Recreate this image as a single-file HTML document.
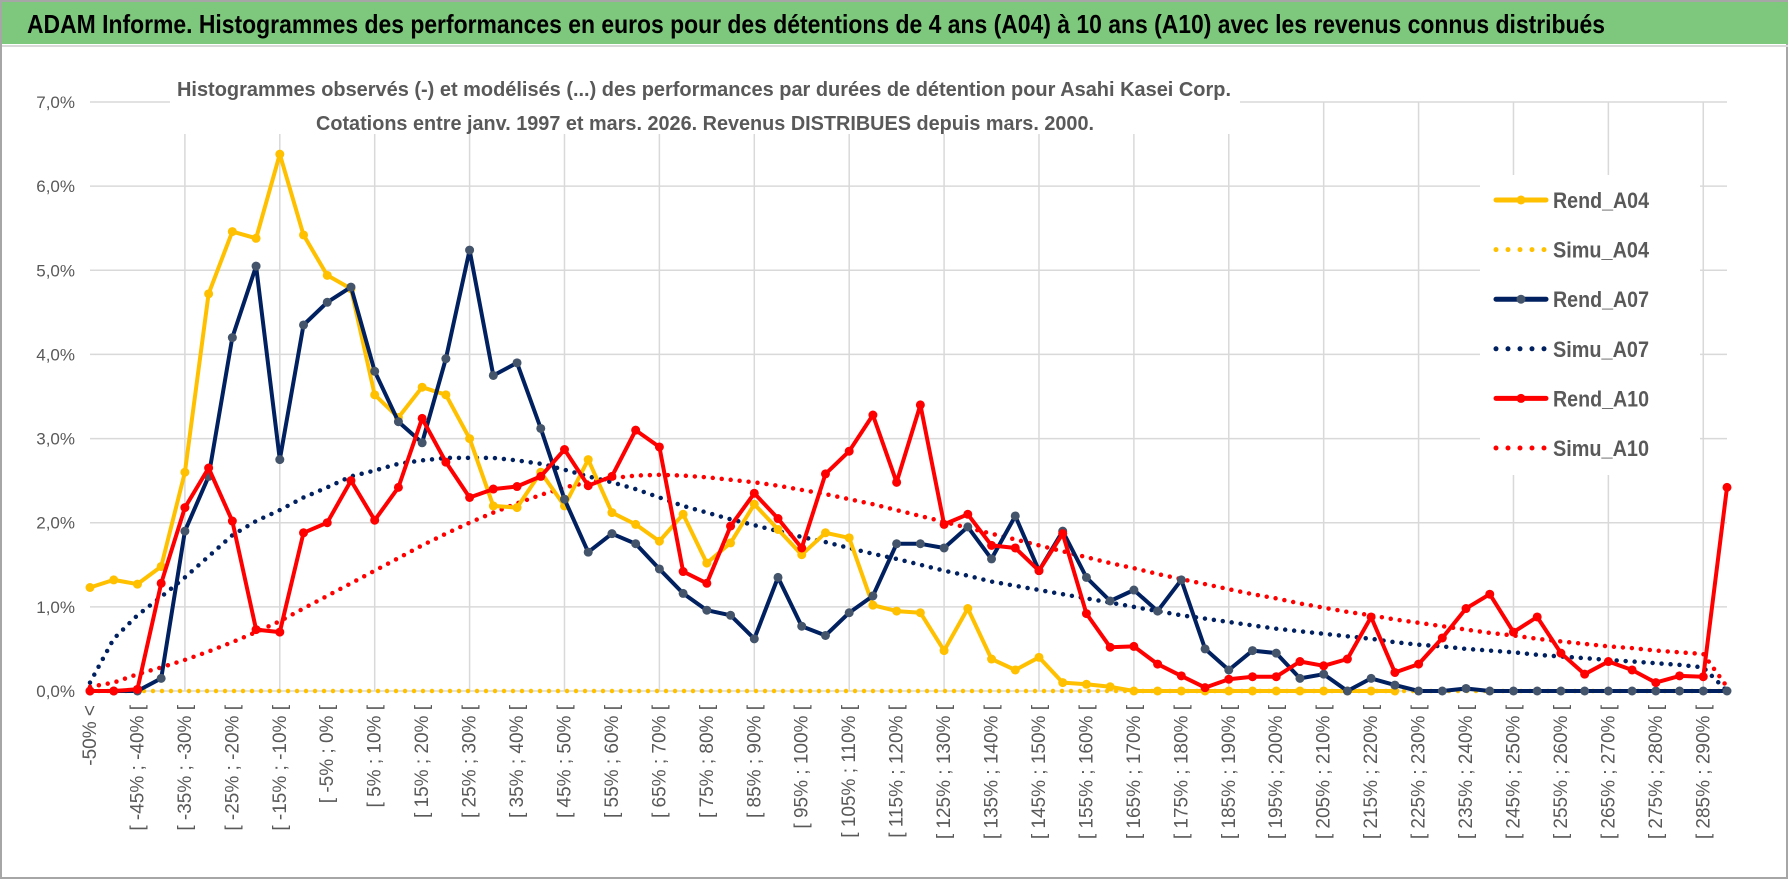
<!DOCTYPE html>
<html><head><meta charset="utf-8"><style>
html,body{margin:0;padding:0;background:#fff;}
svg{display:block;font-family:"Liberation Sans",sans-serif;}
</style></head><body>
<svg id="chart" width="1790" height="888" viewBox="0 0 1790 888">
<rect x="1" y="1" width="1786" height="877" fill="#fff" stroke="#a6a6a6" stroke-width="2"/>
<rect x="2" y="2" width="1786" height="42" fill="#7DC87D"/>
<line x1="2" y1="46" x2="1788" y2="46" stroke="#d9d9d9" stroke-width="2"/>
<text x="27" y="33" font-size="26" font-weight="bold" fill="#000" textLength="1578" lengthAdjust="spacingAndGlyphs">ADAM Informe. Histogrammes des performances en euros pour des détentions de 4 ans (A04) à 10 ans (A10) avec les revenus connus distribués</text>
<g id="grid"></g>
<g id="series"></g>
<rect x="170" y="70" width="1070" height="64" fill="#fff"/>
<text x="177" y="96" font-size="20" font-weight="bold" fill="#595959" textLength="1054" lengthAdjust="spacingAndGlyphs">Histogrammes observés (-) et modélisés (...) des performances par durées de détention pour Asahi Kasei Corp.</text>
<text x="316" y="130" font-size="20" font-weight="bold" fill="#595959" textLength="778" lengthAdjust="spacingAndGlyphs">Cotations entre janv. 1997 et mars. 2026. Revenus DISTRIBUES depuis mars. 2000.</text>
<g id="yaxis"></g>
<g id="xaxis"></g>
<g id="legend"></g>
</svg>
<script>
const rendA04=[1.23,1.32,1.27,1.48,2.6,4.72,5.46,5.38,6.38,5.42,4.94,4.78,3.52,3.25,3.61,3.52,3.0,2.2,2.18,2.6,2.2,2.75,2.12,1.98,1.78,2.1,1.52,1.76,2.22,1.92,1.62,1.88,1.82,1.02,0.95,0.93,0.48,0.98,0.38,0.25,0.4,0.1,0.08,0.05,0,0,0,0,0,0,0,0,0,0,0,0,null,null,null,null,null,null,null,null,null,null,null,null,null,null];
const simuA04=[0,0,0,0,0,0,0,0,0,0,0,0,0,0,0,0,0,0,0,0,0,0,0,0,0,0,0,0,0,0,0,0,0,0,0,0,0,0,0,0,0,0,0,0,0,0,0,0,0,0,0,0,0,0,0,0,0,0,0,0,0,0,0,0,0,0,0,0,0,0];
const rendA07=[0,0,0,0.15,1.9,2.55,4.2,5.05,2.75,4.35,4.62,4.8,3.8,3.2,2.95,3.95,5.24,3.75,3.9,3.12,2.28,1.65,1.87,1.75,1.45,1.16,0.96,0.9,0.62,1.35,0.77,0.66,0.93,1.13,1.75,1.75,1.7,1.95,1.57,2.08,1.43,1.9,1.35,1.07,1.2,0.95,1.32,0.5,0.25,0.48,0.45,0.15,0.2,0,0.15,0.07,0,0,0.03,0,0,0,0,0,0,0,0,0,0,0];
const simuA07=[0.1,0.62,0.9,1.12,1.35,1.6,1.85,2.02,2.15,2.3,2.42,2.55,2.62,2.7,2.74,2.77,2.77,2.77,2.74,2.7,2.63,2.55,2.48,2.4,2.3,2.2,2.12,2.04,1.97,1.9,1.83,1.77,1.7,1.63,1.57,1.5,1.43,1.37,1.3,1.25,1.2,1.15,1.1,1.05,1.0,0.95,0.9,0.86,0.82,0.78,0.74,0.71,0.68,0.65,0.62,0.58,0.55,0.53,0.5,0.48,0.46,0.43,0.41,0.39,0.37,0.35,0.33,0.31,0.28,0];
const rendA10=[0,0,0.02,1.28,2.18,2.65,2.02,0.73,0.7,1.88,2.0,2.5,2.03,2.42,3.24,2.72,2.3,2.4,2.43,2.55,2.87,2.44,2.55,3.1,2.9,1.42,1.28,1.96,2.35,2.05,1.7,2.58,2.85,3.28,2.48,3.4,1.98,2.1,1.73,1.7,1.43,1.87,0.92,0.52,0.53,0.32,0.18,0.04,0.14,0.17,0.17,0.35,0.3,0.38,0.88,0.22,0.32,0.63,0.98,1.15,0.7,0.88,0.45,0.2,0.35,0.25,0.1,0.18,0.17,2.42];
const simuA10=[0.05,0.1,0.2,0.28,0.37,0.47,0.58,0.7,0.83,0.98,1.13,1.28,1.43,1.58,1.73,1.87,2.0,2.12,2.23,2.33,2.42,2.48,2.53,2.56,2.57,2.56,2.54,2.51,2.48,2.44,2.39,2.34,2.28,2.22,2.15,2.08,2.01,1.94,1.87,1.8,1.73,1.66,1.59,1.52,1.46,1.39,1.33,1.27,1.21,1.15,1.1,1.04,0.99,0.94,0.9,0.85,0.81,0.77,0.73,0.69,0.66,0.62,0.59,0.56,0.53,0.51,0.48,0.46,0.44,0.05];
const yTicks=[0,1,2,3,4,5,6,7];
const categories=["-50% <"];
for(let k=1;k<70;k++){categories.push("[ "+(-55+5*k)+"% ; "+(-50+5*k)+"% [");}

const NS="http://www.w3.org/2000/svg";
const X0=90,X1=1727,Y0=691,Y7=102;
const n=categories.length;
function xs(i){return X0+i*(X1-X0)/(n-1);}
function ys(v){return Y0-v*(Y0-Y7)/7;}
function mk(tag,attrs,parent){const e=document.createElementNS(NS,tag);for(const k in attrs)e.setAttribute(k,attrs[k]);parent.appendChild(e);return e;}
const grid=document.getElementById('grid'),ser=document.getElementById('series'),ya=document.getElementById('yaxis'),xa=document.getElementById('xaxis'),lg=document.getElementById('legend');

yTicks.forEach(t=>{
  const l=mk('line',{x1:X0,x2:X1,y1:ys(t),y2:ys(t),stroke:'#d9d9d9','stroke-width':1.5},grid);
  
  
  const tx=mk('text',{x:75,y:ys(t)+6,'text-anchor':'end','font-size':17,fill:'#595959'},ya);
  tx.textContent=t.toFixed(1).replace('.',',')+'%';
  
  
});
for(let i=4;i<n;i+=4){
  const l=mk('line',{x1:xs(i),x2:xs(i),y1:ys(7),y2:Y0,stroke:'#d9d9d9','stroke-width':1.5},grid);
  
  
}
categories.forEach((c,i)=>{
  if(i%2)return;
  const x=xs(i)+6,y=705;
  const tx=mk('text',{x:x,y:y,'text-anchor':'end','font-size':19,fill:'#595959',transform:`rotate(-90 ${x} ${y})`},xa);
  tx.textContent=c;
  
  
});

function path(arr){let d='',pen=false;arr.forEach((v,i)=>{if(v==null){pen=false;return;}d+=(pen?'L':'M')+xs(i).toFixed(1)+' '+ys(v).toFixed(1);pen=true;});return d;}
function dotted(arr,color,name){
  const p=mk('path',{d:path(arr),fill:'none',stroke:color,'stroke-width':4.5,'stroke-linecap':'round','stroke-dasharray':'0 9'},ser);
  
  
}
function solid(arr,color,mcol,name){
  const p=mk('path',{d:path(arr),fill:'none',stroke:color,'stroke-width':4,'stroke-linejoin':'round'},ser);
  
  
  arr.forEach((v,i)=>{if(v==null)return;
    const c=mk('circle',{cx:xs(i),cy:ys(v),r:4.5,fill:mcol},ser);
    
    
  });
}
dotted(simuA04,'#FFC000','simu-a04-line');
dotted(simuA07,'#002060','simu-a07-line');
dotted(simuA10,'#FF0000','simu-a10-line');
solid(rendA04,'#FFC000','#FFC000','rend-a04-line');
solid(rendA07,'#002060','#44546A','rend-a07-line');
solid(rendA10,'#FF0000','#FF0000','rend-a10-line');

mk('rect',{x:1480,y:175,width:220,height:300,fill:'#fff'},lg);
const legNames=['Rend_A04','Simu_A04','Rend_A07','Simu_A07','Rend_A10','Simu_A10'];
const legCols=['#FFC000','#FFC000','#002060','#002060','#FF0000','#FF0000'];
legNames.forEach((nm,i)=>{
  const y=200+i*49.6;
  const g=mk('g',{},lg);
  
  
  if(i%2===0){
    mk('line',{x1:1496,x2:1546,y1:y,y2:y,stroke:legCols[i],'stroke-width':5,'stroke-linecap':'round'},g);
    mk('circle',{cx:1521,cy:y,r:4.5,fill:i===2?'#44546A':legCols[i]},g);
  }else{
    mk('line',{x1:1496,x2:1546,y1:y,y2:y,stroke:legCols[i],'stroke-width':5,'stroke-linecap':'round','stroke-dasharray':'0 12'},g);
  }
  const t=mk('text',{x:1553,y:y+8,'font-size':22,'font-weight':'bold',fill:'#595959',textLength:96,lengthAdjust:'spacingAndGlyphs'},g);
  t.textContent=nm;
});
</script>
</body></html>
